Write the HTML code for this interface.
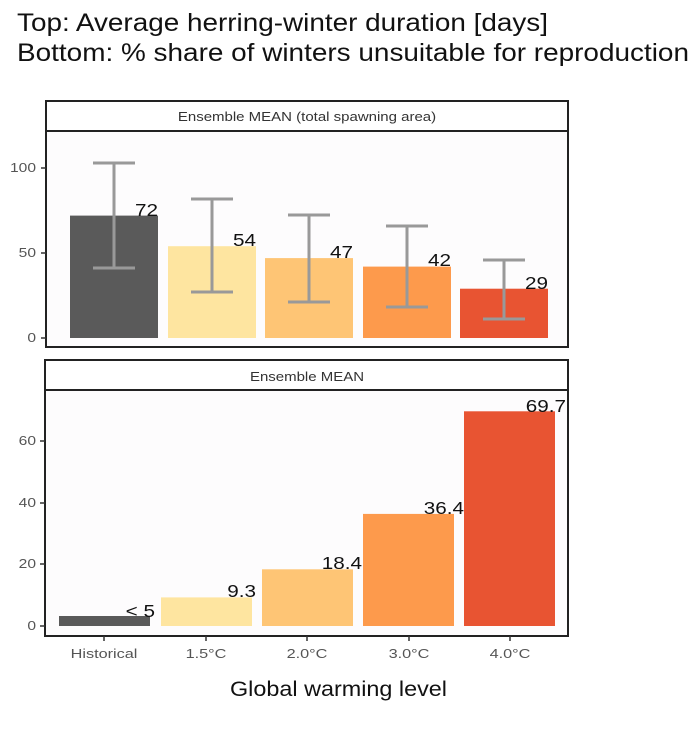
<!DOCTYPE html>
<html><head><meta charset="utf-8"><style>body{margin:0;background:#fff}</style></head><body>
<svg width="695" height="727" xmlns="http://www.w3.org/2000/svg" font-family="Liberation Sans, sans-serif">
<text x="17" y="31" font-size="25" fill="#111" textLength="531" lengthAdjust="spacingAndGlyphs">Top: Average herring-winter duration [days]</text>
<text x="17" y="61" font-size="25" fill="#111" textLength="672" lengthAdjust="spacingAndGlyphs">Bottom: % share of winters unsuitable for reproduction</text>
<!-- top panel -->
<rect x="46" y="101" width="522" height="30" fill="#fff" stroke="#222" stroke-width="2"/>
<text transform="translate(307,121) scale(1.2,1)" font-size="12.5" text-anchor="middle" fill="#333">Ensemble MEAN (total spawning area)</text>
<rect x="46" y="131" width="522" height="216" fill="#fdfcfd" stroke="#222" stroke-width="2"/>
<g font-size="13" fill="#555" text-anchor="end">
<text transform="translate(36,172) scale(1.2,1)">100</text><text transform="translate(36,257) scale(1.2,1)">50</text><text transform="translate(36,342) scale(1.2,1)">0</text></g>
<g stroke="#333" stroke-width="1.5"><line x1="41" y1="168" x2="46" y2="168"/><line x1="41" y1="253" x2="46" y2="253"/><line x1="41" y1="338" x2="46" y2="338"/></g>
<rect x="70" y="215.6" width="88" height="122.4" fill="#5a5a5a"/>
<rect x="168" y="246.2" width="88" height="91.8" fill="#fee5a0"/>
<rect x="265" y="258.1" width="88" height="79.9" fill="#fec575"/>
<rect x="363" y="266.6" width="88" height="71.4" fill="#fd9a4c"/>
<rect x="460" y="288.7" width="88" height="49.3" fill="#e85432"/>
<g stroke="#999" stroke-width="3" fill="none">
<path d="M93 163H135M114 163V268M93 268H135"/>
<path d="M191 199H233M212 199V292M191 292H233"/>
<path d="M288 215H330M309 215V302M288 302H330"/>
<path d="M386 226H428M407 226V307M386 307H428"/>
<path d="M483 260H525M504 260V319M483 319H525"/>
</g>
<g font-size="18" fill="#111" text-anchor="end">
<text transform="translate(158,216) scale(1.15,1)">72</text><text transform="translate(256,246) scale(1.15,1)">54</text><text transform="translate(353,258) scale(1.15,1)">47</text><text transform="translate(451,266) scale(1.15,1)">42</text><text transform="translate(548,289) scale(1.15,1)">29</text></g>
<!-- bottom panel -->
<rect x="45" y="360" width="523" height="30" fill="#fff" stroke="#222" stroke-width="2"/>
<text transform="translate(307,381) scale(1.2,1)" font-size="12.5" text-anchor="middle" fill="#333">Ensemble MEAN</text>
<rect x="45" y="390" width="523" height="246" fill="#fdfcfd" stroke="#222" stroke-width="2"/>
<g font-size="13" fill="#555" text-anchor="end">
<text transform="translate(36,445) scale(1.2,1)">60</text><text transform="translate(36,507) scale(1.2,1)">40</text><text transform="translate(36,568) scale(1.2,1)">20</text><text transform="translate(36,630) scale(1.2,1)">0</text></g>
<g stroke="#333" stroke-width="1.5"><line x1="40" y1="441" x2="45" y2="441"/><line x1="40" y1="503" x2="45" y2="503"/><line x1="40" y1="564" x2="45" y2="564"/><line x1="40" y1="626" x2="45" y2="626"/>
<line x1="104" y1="636" x2="104" y2="641"/><line x1="206" y1="636" x2="206" y2="641"/><line x1="307" y1="636" x2="307" y2="641"/><line x1="409" y1="636" x2="409" y2="641"/><line x1="510" y1="636" x2="510" y2="641"/></g>
<rect x="59" y="616" width="91" height="10" fill="#5a5a5a"/>
<rect x="161" y="597.4" width="91" height="28.6" fill="#fee5a0"/>
<rect x="262" y="569.3" width="91" height="56.7" fill="#fec575"/>
<rect x="363" y="513.9" width="91" height="112.1" fill="#fd9a4c"/>
<rect x="464" y="411.3" width="91" height="214.7" fill="#e85432"/>
<g font-size="18" fill="#111" text-anchor="end">
<text transform="translate(155,617) scale(1.15,1)">&lt; 5</text><text transform="translate(256,597) scale(1.15,1)">9.3</text><text transform="translate(362,569) scale(1.15,1)">18.4</text><text transform="translate(464,514) scale(1.15,1)">36.4</text><text transform="translate(566,412) scale(1.15,1)">69.7</text></g>
<g font-size="13" fill="#555" text-anchor="middle">
<text transform="translate(104,658) scale(1.25,1)">Historical</text><text transform="translate(206,658) scale(1.25,1)">1.5°C</text><text transform="translate(307,658) scale(1.25,1)">2.0°C</text><text transform="translate(409,658) scale(1.25,1)">3.0°C</text><text transform="translate(510,658) scale(1.25,1)">4.0°C</text></g>
<text x="230" y="696" font-size="21" fill="#111" textLength="217" lengthAdjust="spacingAndGlyphs">Global warming level</text>
</svg>
</body></html>
